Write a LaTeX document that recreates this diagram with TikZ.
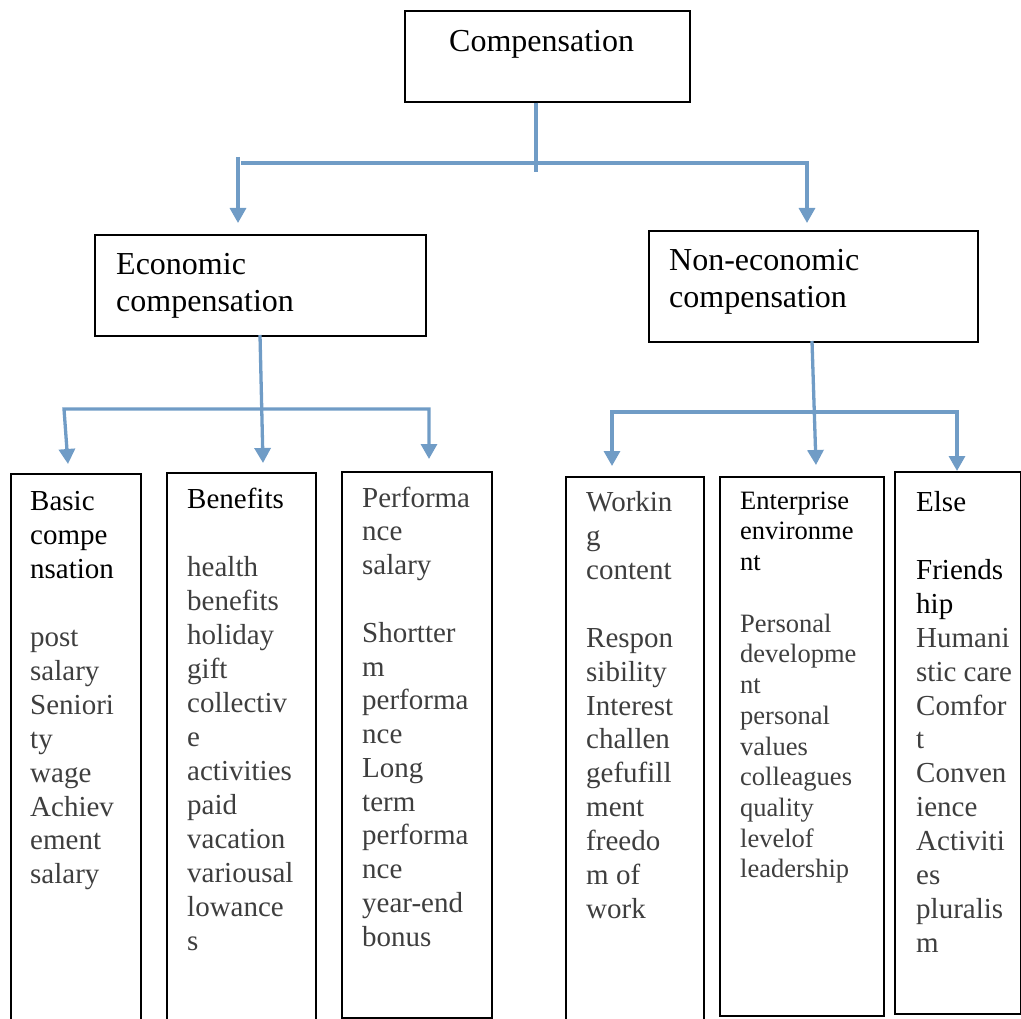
\documentclass[tikz,border=0pt]{standalone}
\usepackage{fontspec}
\setmainfont{Liberation Serif}
\usetikzlibrary{arrows.meta}
\definecolor{linkblue}{RGB}{112,156,198}
\definecolor{itemgray}{RGB}{62,62,62}
\tikzset{
  box/.style={draw=black, line width=1.6pt, inner sep=0pt, anchor=north west},
  link/.style={draw=linkblue, line width=3.3pt},
  tip/.style={-{Triangle[width=16pt,length=15pt]}},
  twotip/.style={{Triangle[width=16pt,length=15pt]}-{Triangle[width=16pt,length=15pt]}},
  txt/.style={anchor=base west, inner sep=0pt},
}
% a column of text whose first baseline sits at the node's base anchor
\newcommand{\textcol}[3]{\parbox[t]{200pt}{\raggedright\fontsize{#1}{#2}\selectfont\leavevmode #3}}
\newcommand{\gap}{\\[\baselineskip]}
\begin{document}
\begin{tikzpicture}[x=1pt, y=-1pt]
\useasboundingbox (0,0) rectangle (1021,1019);

% ---------- boxes ----------
\node[box, minimum width=285pt, minimum height=91pt]  (top)     at (404,10)  {};
\node[box, minimum width=331pt, minimum height=101pt] (econ)    at (94,234)  {};
\node[box, minimum width=329pt, minimum height=111pt] (nonecon) at (648,230) {};
\node[box, minimum width=130pt, minimum height=560pt] (basic)   at (10,473)  {};
\node[box, minimum width=149pt, minimum height=560pt] (benef)   at (166,472) {};
\node[box, minimum width=150pt, minimum height=546pt] (perf)    at (341,471) {};
\node[box, minimum width=138pt, minimum height=560pt] (work)    at (565,476) {};
\node[box, minimum width=164pt, minimum height=539pt] (enter)   at (719,476) {};
\node[box, minimum width=126pt, minimum height=542pt] (other)   at (894,471) {};

% ---------- texts ----------
\node[txt] (topT) at (449,52) {\textcol{32}{36.8}{Compensation}};
\node[txt] (econT) at (116,275) {\textcol{32}{36.5}{Economic\\compensation}};
\node[txt] (noneconT) at (669,271) {\textcol{32}{36.5}{Non-economic\\compensation}};

\node[txt] (basicT) at (30,510) {\textcol{29}{34}{Basic\\compe\\nsation\gap
  {\color{itemgray}post\\salary\\Seniori\\ty\\wage\\Achiev\\ement\\salary}}};
\node[txt] (benefT) at (187,508) {\textcol{29}{34}{Benefits\gap
  {\color{itemgray}health\\benefits\\holiday\\gift\\collectiv\\e\\activities\\paid\\vacation\\variousal\\lowance\\s}}};
\node[txt] (perfT) at (362,507) {\textcol{29}{33.8}{\color{itemgray}Performa\\nce\\salary\gap
  Shortter\\m\\performa\\nce\\Long\\term\\performa\\nce\\year-end\\bonus}};
\node[txt] (workT) at (586,511) {\textcol{29}{34}{\color{itemgray}Workin\\g\\content\gap
  Respon\\sibility\\Interest\\challen\\gefufill\\ment\\freedo\\m of\\work}};
\node[txt] (enterT) at (740,509) {\textcol{26.5}{30.75}{Enterprise\\environme\\nt\gap
  {\color{itemgray}Personal\\developme\\nt\\personal\\values\\colleagues\\quality\\levelof\\leadership}}};
\node[txt] (otherT) at (916,511) {\textcol{29}{34}{Else\gap
  Friends\\hip\\{\color{itemgray}Humani\\stic care\\Comfor\\t\\Conven\\ience\\Activiti\\es\\pluralis\\m}}};

% ---------- connector points ----------
\coordinate (s0) at (536,172);
\coordinate (b0L) at (238,157);
\coordinate (b0Lh) at (241,163);
\coordinate (b0R) at (807,163);
\coordinate (t0L) at (238,223);
\coordinate (t0R) at (807,223);

\coordinate (s1a) at (260,335);
\coordinate (s1b) at (263,463);
\coordinate (b1L) at (64,409);
\coordinate (b1R) at (429,409);
\coordinate (t1L) at (68,464);
\coordinate (t1R) at (429,459);

\coordinate (s2a) at (812,341);
\coordinate (s2b) at (816,465);
\coordinate (b2L) at (612,412);
\coordinate (b2R) at (957,412);
\coordinate (t2L) at (612,466);
\coordinate (t2R) at (957,471);

% ---------- connectors ----------
\draw[link] (top.south -| s0) -- (s0);
\draw[link, tip] (b0Lh) -- (b0R) -- (t0R);
\draw[link, tip] (b0L) -- (t0L);

\draw[link, tip] (s1a) -- (s1b);
\draw[link, twotip] (t1L) -- (b1L) -- (b1R) -- (t1R);

\draw[link, tip] (s2a) -- (s2b);
\draw[link, twotip] (t2L) -- (b2L) -- (b2R) -- (t2R);
\end{tikzpicture}
\end{document}
